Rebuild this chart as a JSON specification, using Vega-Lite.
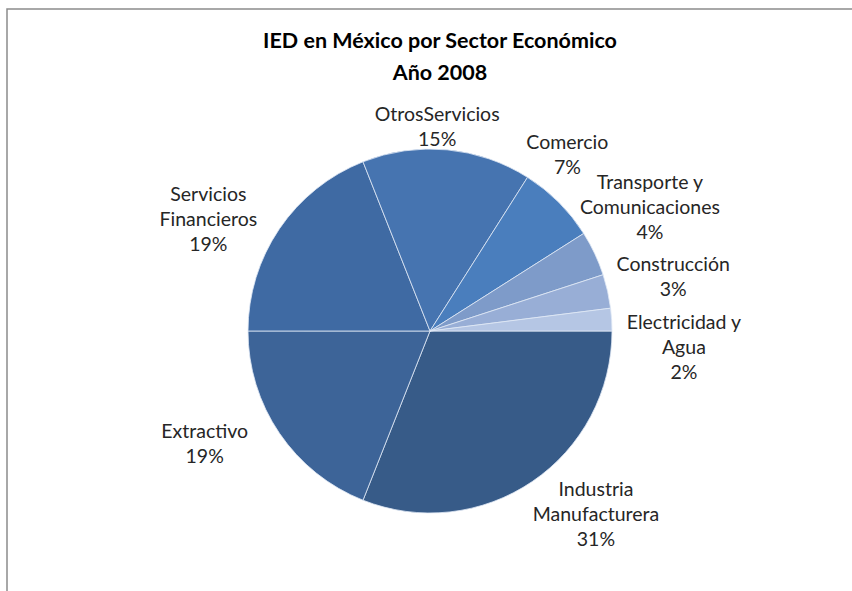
{
  "$schema": "https://vega.github.io/schema/vega-lite/v6.json",
  "width": 846,
  "height": 644,
  "autosize": {"type": "none"},
  "padding": {"left": 7, "top": 9, "right": 0, "bottom": 0},
  "background": "white",
  "config": {
    "view": {"stroke": null},
    "text": {"lineBreak": "\n", "font": "Lato", "fontSize": 19.5, "lineHeight": 25, "color": "#262626", "align": "center", "baseline": "middle"}
  },
  "title": {
    "text": ["IED en México por Sector Económico", "Año 2008"],
    "font": "Lato",
    "fontSize": 21.5,
    "fontWeight": "bold",
    "color": "#000000",
    "lineHeight": 32,
    "anchor": "middle",
    "dx": 10,
    "offset": -76
  },
  "datasets": {
    "ied": [
      {"sector": "Industria Manufacturera", "pct": 31, "orden": 1, "label": "Industria\nManufacturera\n31%"},
      {"sector": "Extractivo", "pct": 19, "orden": 2, "label": "Extractivo\n19%"},
      {"sector": "Servicios Financieros", "pct": 19, "orden": 3, "label": "Servicios\nFinancieros\n19%"},
      {"sector": "OtrosServicios", "pct": 15, "orden": 4, "label": "OtrosServicios\n15%"},
      {"sector": "Comercio", "pct": 7, "orden": 5, "label": "Comercio\n7%"},
      {"sector": "Transporte y Comunicaciones", "pct": 4, "orden": 6, "label": "Transporte y\nComunicaciones\n4%"},
      {"sector": "Construcción", "pct": 3, "orden": 7, "label": "Construcción\n3%"},
      {"sector": "Electricidad y Agua", "pct": 2, "orden": 8, "label": "Electricidad y\nAgua\n2%"}
    ],
    "marco": [{}]
  },
  "data": {"name": "ied"},
  "layer": [
    {
      "data": {"name": "marco"},
      "mark": {"type": "rect", "fill": null, "stroke": "#8c8c8c", "strokeWidth": 1.5},
      "encoding": {}
    },
    {
      "mark": {"type": "arc", "outerRadius": 182, "stroke": "#dfe8f5", "strokeWidth": 0.8},
      "encoding": {
        "theta": {"field": "pct", "type": "quantitative", "stack": true, "scale": {"domain": [0, 100], "range": [1.5708, 7.854]}},
        "order": {"field": "orden", "type": "quantitative"},
        "color": {
          "field": "sector",
          "type": "nominal",
          "legend": null,
          "scale": {
            "domain": ["Industria Manufacturera", "Extractivo", "Servicios Financieros", "OtrosServicios", "Comercio", "Transporte y Comunicaciones", "Construcción", "Electricidad y Agua"],
            "range": ["#375b88", "#3d6498", "#3f6aa3", "#4674b0", "#4a7ebd", "#7e9bc9", "#98aed6", "#b5c6e4"]
          }
        }
      }
    },
    {
      "mark": {"type": "text", "radius": 230, "thetaOffset": -0.209},
      "encoding": {
        "theta": {"field": "pct", "type": "quantitative", "stack": true},
        "order": {"field": "orden", "type": "quantitative"},
        "text": {"condition": {"test": "datum.sector === 'Industria Manufacturera'", "field": "label"}, "value": ""}
      }
    },
    {
      "mark": {"type": "text", "radius": 247, "thetaOffset": 0.175},
      "encoding": {
        "theta": {"field": "pct", "type": "quantitative", "stack": true},
        "order": {"field": "orden", "type": "quantitative"},
        "text": {"condition": {"test": "datum.sector === 'Extractivo'", "field": "label"}, "value": ""}
      }
    },
    {
      "mark": {"type": "text", "radius": 260, "thetaOffset": -0.047},
      "encoding": {
        "theta": {"field": "pct", "type": "quantitative", "stack": true},
        "order": {"field": "orden", "type": "quantitative"},
        "text": {"condition": {"test": "datum.sector === 'Servicios Financieros'", "field": "label"}, "value": ""}
      }
    },
    {
      "mark": {"type": "text", "radius": 216, "thetaOffset": -0.061},
      "encoding": {
        "theta": {"field": "pct", "type": "quantitative", "stack": true},
        "order": {"field": "orden", "type": "quantitative"},
        "text": {"condition": {"test": "datum.sector === 'OtrosServicios'", "field": "label"}, "value": ""}
      }
    },
    {
      "mark": {"type": "text", "radius": 233, "thetaOffset": -0.155},
      "encoding": {
        "theta": {"field": "pct", "type": "quantitative", "stack": true},
        "order": {"field": "orden", "type": "quantitative"},
        "text": {"condition": {"test": "datum.sector === 'Comercio'", "field": "label"}, "value": ""}
      }
    },
    {
      "mark": {"type": "text", "radius": 265, "thetaOffset": -0.152},
      "encoding": {
        "theta": {"field": "pct", "type": "quantitative", "stack": true},
        "order": {"field": "orden", "type": "quantitative"},
        "text": {"condition": {"test": "datum.sector === 'Transporte y Comunicaciones'", "field": "label"}, "value": ""}
      }
    },
    {
      "mark": {"type": "text", "radius": 252, "thetaOffset": -0.045},
      "encoding": {
        "theta": {"field": "pct", "type": "quantitative", "stack": true},
        "order": {"field": "orden", "type": "quantitative"},
        "text": {"condition": {"test": "datum.sector === 'Construcción'", "field": "label"}, "value": ""}
      }
    },
    {
      "mark": {"type": "text", "radius": 254, "thetaOffset": 0.031},
      "encoding": {
        "theta": {"field": "pct", "type": "quantitative", "stack": true},
        "order": {"field": "orden", "type": "quantitative"},
        "text": {"condition": {"test": "datum.sector === 'Electricidad y Agua'", "field": "label"}, "value": ""}
      }
    }
  ]
}
